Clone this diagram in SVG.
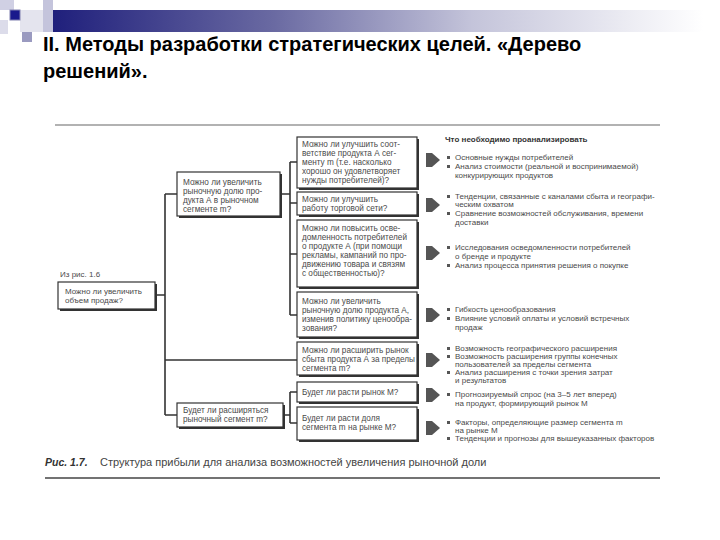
<svg xmlns="http://www.w3.org/2000/svg" width="720" height="540" viewBox="0 0 720 540">
<style>
.t{font-family:"Liberation Sans",Arial,sans-serif;font-size:8px;fill:#4a4a4a}
.q{font-family:"Liberation Sans",Arial,sans-serif;font-size:8.2px;fill:#4a4a4a}
.h{font-family:"Liberation Sans",Arial,sans-serif;font-size:8px;font-weight:bold;fill:#333}
.title{font-family:"Liberation Sans",Arial,sans-serif;font-size:20px;font-weight:bold;fill:#000}
.box{fill:#fff;stroke:#333;stroke-width:1.2}
.sh{fill:#333}
.ln{fill:none;stroke:#333;stroke-width:1.6}
.arr{fill:#555}
.bul{fill:#555}
</style>
<defs>
<linearGradient id="bar" x1="0" y1="0" x2="1" y2="0">
<stop offset="0" stop-color="#1c1c7a"/>
<stop offset="0.35" stop-color="#6a6aa2"/>
<stop offset="0.65" stop-color="#c4c4da"/>
<stop offset="1" stop-color="#ffffff"/>
</linearGradient>
</defs>
<rect width="720" height="540" fill="#fff"/>
<g id="decor">
<rect x="43" y="10" width="660" height="22" fill="url(#bar)"/>
<rect x="0" y="0" width="14" height="10" fill="#d0d0e4"/>
<rect x="0" y="20" width="8" height="14" fill="#dcdcea"/>
<rect x="20" y="10" width="23" height="22" fill="#e4e4ee"/>
<rect x="43" y="0" width="10" height="32" fill="#c4c4dc"/>
<rect x="22" y="32" width="10" height="10" fill="#9a9ac0"/>
<rect x="10" y="10" width="10" height="10" fill="#1a1a8c" stroke="#8080b0" stroke-width="1"/>
</g>
<g id="title">
<text class="title" x="43" y="51">II. Методы разработки стратегических целей. «Дерево</text>
<text class="title" x="43" y="78">решений».</text>
</g>
<line x1="55" y1="125" x2="660" y2="125" stroke="#999" stroke-width="1.5"/>
<line x1="45" y1="478" x2="660" y2="478" stroke="#444" stroke-width="1.5"/>
<g id="caption">
<text x="45" y="466" font-family="'Liberation Sans',Arial,sans-serif" font-size="10.5" font-weight="bold" font-style="italic" fill="#333">Рис. 1.7.</text>
<text x="100" y="466" font-family="'Liberation Sans',Arial,sans-serif" font-size="11" fill="#444">Структура прибыли для анализа возможностей увеличения рыночной доли</text>
</g>
<g id="connectors">
<path class="ln" d="M155,295H165M165,194V415M165,194H177M165,360H297M165,415H177"/>
<path class="ln" d="M280,194H290M290,162V315M290,162H297M290,203H297M290,254H297M290,315H297"/>
<path class="ln" d="M283,415H290M290,392V423M290,392H297M290,423H297"/>
<g class="arr">
<polygon points="426,153 432,153 440,160 432,167 426,167"/>
<polygon points="426,198 432,198 440,205 432,212 426,212"/>
<polygon points="426,246 432,246 440,253 432,260 426,260"/>
<polygon points="426,308 432,308 440,315 432,322 426,322"/>
<polygon points="426,353 432,353 440,360 432,367 426,367"/>
<polygon points="426,388 432,388 440,395 432,402 426,402"/>
<polygon points="426,421 432,421 440,428 432,435 426,435"/>
</g>
</g>
<g id="src">
<text class="t" x="60" y="277">Из рис. 1.6</text>
</g>
<g id="n-root">
<rect class="sh" x="60" y="284" width="97" height="27"/>
<rect class="box" x="58" y="282" width="97" height="27"/>
<text class="t" x="65" y="294">Можно ли увеличить</text>
<text class="t" x="65" y="303">объем продаж?</text>
</g>
<g id="n-share">
<rect class="sh" x="179" y="174" width="103" height="44"/>
<rect class="box" x="177" y="172" width="103" height="44"/>
<text class="q" x="183" y="185">Можно ли увеличить</text>
<text class="q" x="183" y="194">рыночную долю про-</text>
<text class="q" x="183" y="203">дукта А в рыночном</text>
<text class="q" x="183" y="212">сегменте m?</text>
</g>
<g id="n-expand">
<rect class="sh" x="179" y="405" width="106" height="24"/>
<rect class="box" x="177" y="403" width="106" height="24"/>
<text class="q" x="183" y="413">Будет ли расширяться</text>
<text class="q" x="183" y="422">рыночный сегмент m?</text>
</g>
<g id="q1">
<rect class="sh" x="299" y="139" width="120" height="51"/>
<rect class="box" x="297" y="137" width="120" height="51"/>
<text class="q" x="302" y="147">Можно ли улучшить соот-</text>
<text class="q" x="302" y="156">ветствие продукта А сег-</text>
<text class="q" x="302" y="165">менту m (т.е. насколько</text>
<text class="q" x="302" y="174">хорошо он удовлетворяет</text>
<text class="q" x="302" y="183">нужды потребителей)?</text>
</g>
<g id="q2">
<rect class="sh" x="299" y="194" width="120" height="23"/>
<rect class="box" x="297" y="192" width="120" height="23"/>
<text class="q" x="302" y="202">Можно ли улучшить</text>
<text class="q" x="302" y="211">работу торговой сети?</text>
</g>
<g id="q3">
<rect class="sh" x="299" y="222" width="120" height="67"/>
<rect class="box" x="297" y="220" width="120" height="67"/>
<text class="q" x="302" y="231">Можно ли повысить осве-</text>
<text class="q" x="302" y="240">домленность потребителей</text>
<text class="q" x="302" y="249">о продукте А (при помощи</text>
<text class="q" x="302" y="258">рекламы, кампаний по про-</text>
<text class="q" x="302" y="267">движению товара и связям</text>
<text class="q" x="302" y="276">с общественностью)?</text>
</g>
<g id="q4">
<rect class="sh" x="299" y="294" width="120" height="45"/>
<rect class="box" x="297" y="292" width="120" height="45"/>
<text class="q" x="302" y="304">Можно ли увеличить</text>
<text class="q" x="302" y="313">рыночную долю продукта А,</text>
<text class="q" x="302" y="322">изменив политику ценообра-</text>
<text class="q" x="302" y="331">зования?</text>
</g>
<g id="q5">
<rect class="sh" x="299" y="344" width="120" height="33"/>
<rect class="box" x="297" y="342" width="120" height="33"/>
<text class="q" x="302" y="353">Можно ли расширить рынок</text>
<text class="q" x="302" y="362">сбыта продукта А за пределы</text>
<text class="q" x="302" y="371">сегмента m?</text>
</g>
<g id="q6">
<rect class="sh" x="299" y="384" width="120" height="20"/>
<rect class="box" x="297" y="382" width="120" height="20"/>
<text class="q" x="302" y="395">Будет ли расти рынок M?</text>
</g>
<g id="q7">
<rect class="sh" x="299" y="409" width="120" height="33"/>
<rect class="box" x="297" y="407" width="120" height="33"/>
<text class="q" x="302" y="421">Будет ли расти доля</text>
<text class="q" x="302" y="430">сегмента m на рынке M?</text>
</g>
<g id="analysis">
<text class="h" x="445" y="142">Что необходимо проанализировать</text>
<g class="bul">
<rect x="447" y="156" width="3" height="3"/>
<rect x="447" y="165" width="3" height="3"/>
<rect x="447" y="195" width="3" height="3"/>
<rect x="447" y="212" width="3" height="3"/>
<rect x="447" y="246" width="3" height="3"/>
<rect x="447" y="264" width="3" height="3"/>
<rect x="447" y="308" width="3" height="3"/>
<rect x="447" y="317" width="3" height="3"/>
<rect x="447" y="347" width="3" height="3"/>
<rect x="447" y="355" width="3" height="3"/>
<rect x="447" y="371" width="3" height="3"/>
<rect x="447" y="393" width="3" height="3"/>
<rect x="447" y="421" width="3" height="3"/>
<rect x="447" y="437" width="3" height="3"/>
</g>
<text class="t" x="455" y="160">Основные нужды потребителей</text>
<text class="t" x="455" y="169">Анализ стоимости (реальной и воспринимаемой)</text>
<text class="t" x="455" y="178">конкурирующих продуктов</text>
<text class="t" x="455" y="199">Тенденции, связанные с каналами сбыта и географи-</text>
<text class="t" x="455" y="207">ческим охватом</text>
<text class="t" x="455" y="216">Сравнение возможностей обслуживания, времени</text>
<text class="t" x="455" y="225">доставки</text>
<text class="t" x="455" y="250">Исследования осведомленности потребителей</text>
<text class="t" x="455" y="259">о бренде и продукте</text>
<text class="t" x="455" y="268">Анализ процесса принятия решения о покупке</text>
<text class="t" x="455" y="312">Гибкость ценообразования</text>
<text class="t" x="455" y="321">Влияние условий оплаты и условий встречных</text>
<text class="t" x="455" y="330">продаж</text>
<text class="t" x="455" y="351">Возможность географического расширения</text>
<text class="t" x="455" y="359">Возможность расширения группы конечных</text>
<text class="t" x="455" y="367">пользователей за пределы сегмента</text>
<text class="t" x="455" y="375">Анализ расширения с точки зрения затрат</text>
<text class="t" x="455" y="383">и результатов</text>
<text class="t" x="455" y="397">Прогнозируемый спрос (на 3–5 лет вперед)</text>
<text class="t" x="455" y="406">на продукт, формирующий рынок M</text>
<text class="t" x="455" y="425">Факторы, определяющие размер сегмента m</text>
<text class="t" x="455" y="433">на рынке M</text>
<text class="t" x="455" y="441">Тенденции и прогнозы для вышеуказанных факторов</text>
</g>
</svg>
